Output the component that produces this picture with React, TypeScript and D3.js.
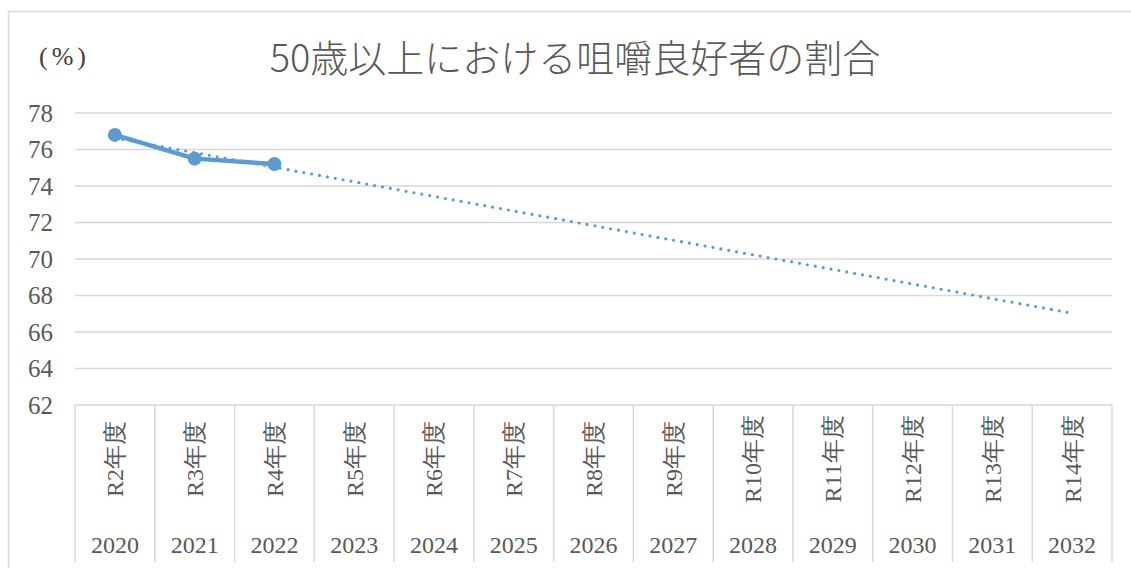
import React, { useEffect, useRef } from 'react';
import * as d3 from 'd3';

const categories = ['R2年度', 'R3年度', 'R4年度', 'R5年度', 'R6年度', 'R7年度', 'R8年度', 'R9年度', 'R10年度', 'R11年度', 'R12年度', 'R13年度', 'R14年度'];
const years = ['2020', '2021', '2022', '2023', '2024', '2025', '2026', '2027', '2028', '2029', '2030', '2031', '2032'];
const actualValues = [76.8, 75.5, 75.2];
// linear trendline, read at the first and last category
const trendCategories = ['R2年度', 'R14年度'];
const trendValues = [76.63, 67.03];
const yTicks = [62, 64, 66, 68, 70, 72, 74, 76, 78];

const title = '50歳以上における咀嚼良好者の割合';
const unitLabel = '(%)';

export default function App() {
  const svgRef = useRef<SVGSVGElement>(null);

  useEffect(() => {
    if (!svgRef.current) return;
    const svg = d3.select(svgRef.current);
    svg.selectAll('*').remove();

    const W = 1131;
    const H = 568;
    const left = 75;
    const right = 1112;
    const top = 113;
    const bottom = 405;
    const serif = '"Liberation Serif", "DejaVu Serif", serif';
    const textColor = '#595959';
    const gridColor = '#d9d9d9';
    const blue = '#5b9bd5';

    svg.attr('width', W).attr('height', H);

    svg
      .append('rect')
      .attr('x', 8.5)
      .attr('y', 11.5)
      .attr('width', W + 10)
      .attr('height', H + 10)
      .attr('fill', '#fff')
      .attr('stroke', gridColor)
      .attr('stroke-width', 1.5);

    const x = d3.scaleBand().domain(categories).range([left, right]);
    const y = d3.scaleLinear().domain([62, 78]).range([bottom, top]);

    // Title
    svg
      .append('text')
      .attr('x', 575)
      .attr('y', 72)
      .attr('text-anchor', 'middle')
      .style('font-family', '"Noto Sans CJK JP", "Noto Sans", sans-serif')
      .style('font-weight', 300)
      .style('font-size', '38px')
      .style('fill', textColor)
      .text(title);

    svg
      .append('text')
      .attr('x', 39)
      .attr('y', 65)
      .style('font-family', serif)
      .style('font-size', '26px')
      .style('letter-spacing', '4px')
      .style('fill', '#404040')
      .text(unitLabel);

    // Grid lines
    svg
      .append('g')
      .selectAll('line')
      .data(yTicks)
      .enter()
      .append('line')
      .attr('x1', left)
      .attr('x2', right)
      .attr('y1', (d) => y(d))
      .attr('y2', (d) => y(d))
      .attr('stroke', gridColor)
      .attr('stroke-width', 1.5);

    // Y tick labels
    svg
      .append('g')
      .selectAll('text')
      .data(yTicks)
      .enter()
      .append('text')
      .attr('x', 53)
      .attr('y', (d) => y(d))
      .attr('dy', '0.35em')
      .attr('text-anchor', 'end')
      .style('font-family', serif)
      .style('font-size', '25px')
      .style('fill', textColor)
      .text((d) => d);

    // Category separators
    const bounds = categories.map((c) => x(c) as number).concat([right]);
    svg
      .append('g')
      .selectAll('line')
      .data(bounds)
      .enter()
      .append('line')
      .attr('x1', (d) => d)
      .attr('x2', (d) => d)
      .attr('y1', bottom)
      .attr('y2', 562)
      .attr('stroke', gridColor)
      .attr('stroke-width', 1.5);

    // Category labels (rotated)
    svg
      .append('g')
      .selectAll('text')
      .data(categories)
      .enter()
      .append('text')
      .attr('transform', (d) => `translate(${(x(d) as number) + x.bandwidth() / 2},459) rotate(-90)`)
      .attr('text-anchor', 'middle')
      .attr('dy', '0.35em')
      .style('font-family', serif)
      .style('font-size', '24px')
      .style('fill', textColor)
      .text((d) => d);

    // Year labels
    svg
      .append('g')
      .selectAll('text')
      .data(years)
      .enter()
      .append('text')
      .attr('x', (d, i) => (x(categories[i]) as number) + x.bandwidth() / 2)
      .attr('y', 553)
      .attr('text-anchor', 'middle')
      .style('font-family', serif)
      .style('font-size', '24px')
      .style('fill', textColor)
      .text((d) => d);

    const cx = (c: string) => (x(c) as number) + x.bandwidth() / 2;

    // Trendline
    const trendLine = d3
      .line<number>()
      .x((d, i) => cx(trendCategories[i]))
      .y((d) => y(d));
    svg
      .append('path')
      .datum(trendValues)
      .attr('d', trendLine)
      .attr('fill', 'none')
      .attr('stroke', blue)
      .attr('stroke-width', 3.2)
      .attr('stroke-linecap', 'round')
      .attr('stroke-dasharray', '0 8');

    // Actual values
    const line = d3
      .line<number>()
      .x((d, i) => cx(categories[i]))
      .y((d) => y(d));
    svg
      .append('path')
      .datum(actualValues)
      .attr('d', line)
      .attr('fill', 'none')
      .attr('stroke', blue)
      .attr('stroke-width', 4.5)
      .attr('stroke-linejoin', 'round');

    svg
      .append('g')
      .selectAll('circle')
      .data(actualValues)
      .enter()
      .append('circle')
      .attr('cx', (d, i) => cx(categories[i]))
      .attr('cy', (d) => y(d))
      .attr('r', 7)
      .attr('fill', blue);
  }, []);

  return (
    <div style={{ position: 'absolute', left: 0, top: 0 }}>
      <svg ref={svgRef} style={{ display: 'block' }}></svg>
    </div>
  );
}
